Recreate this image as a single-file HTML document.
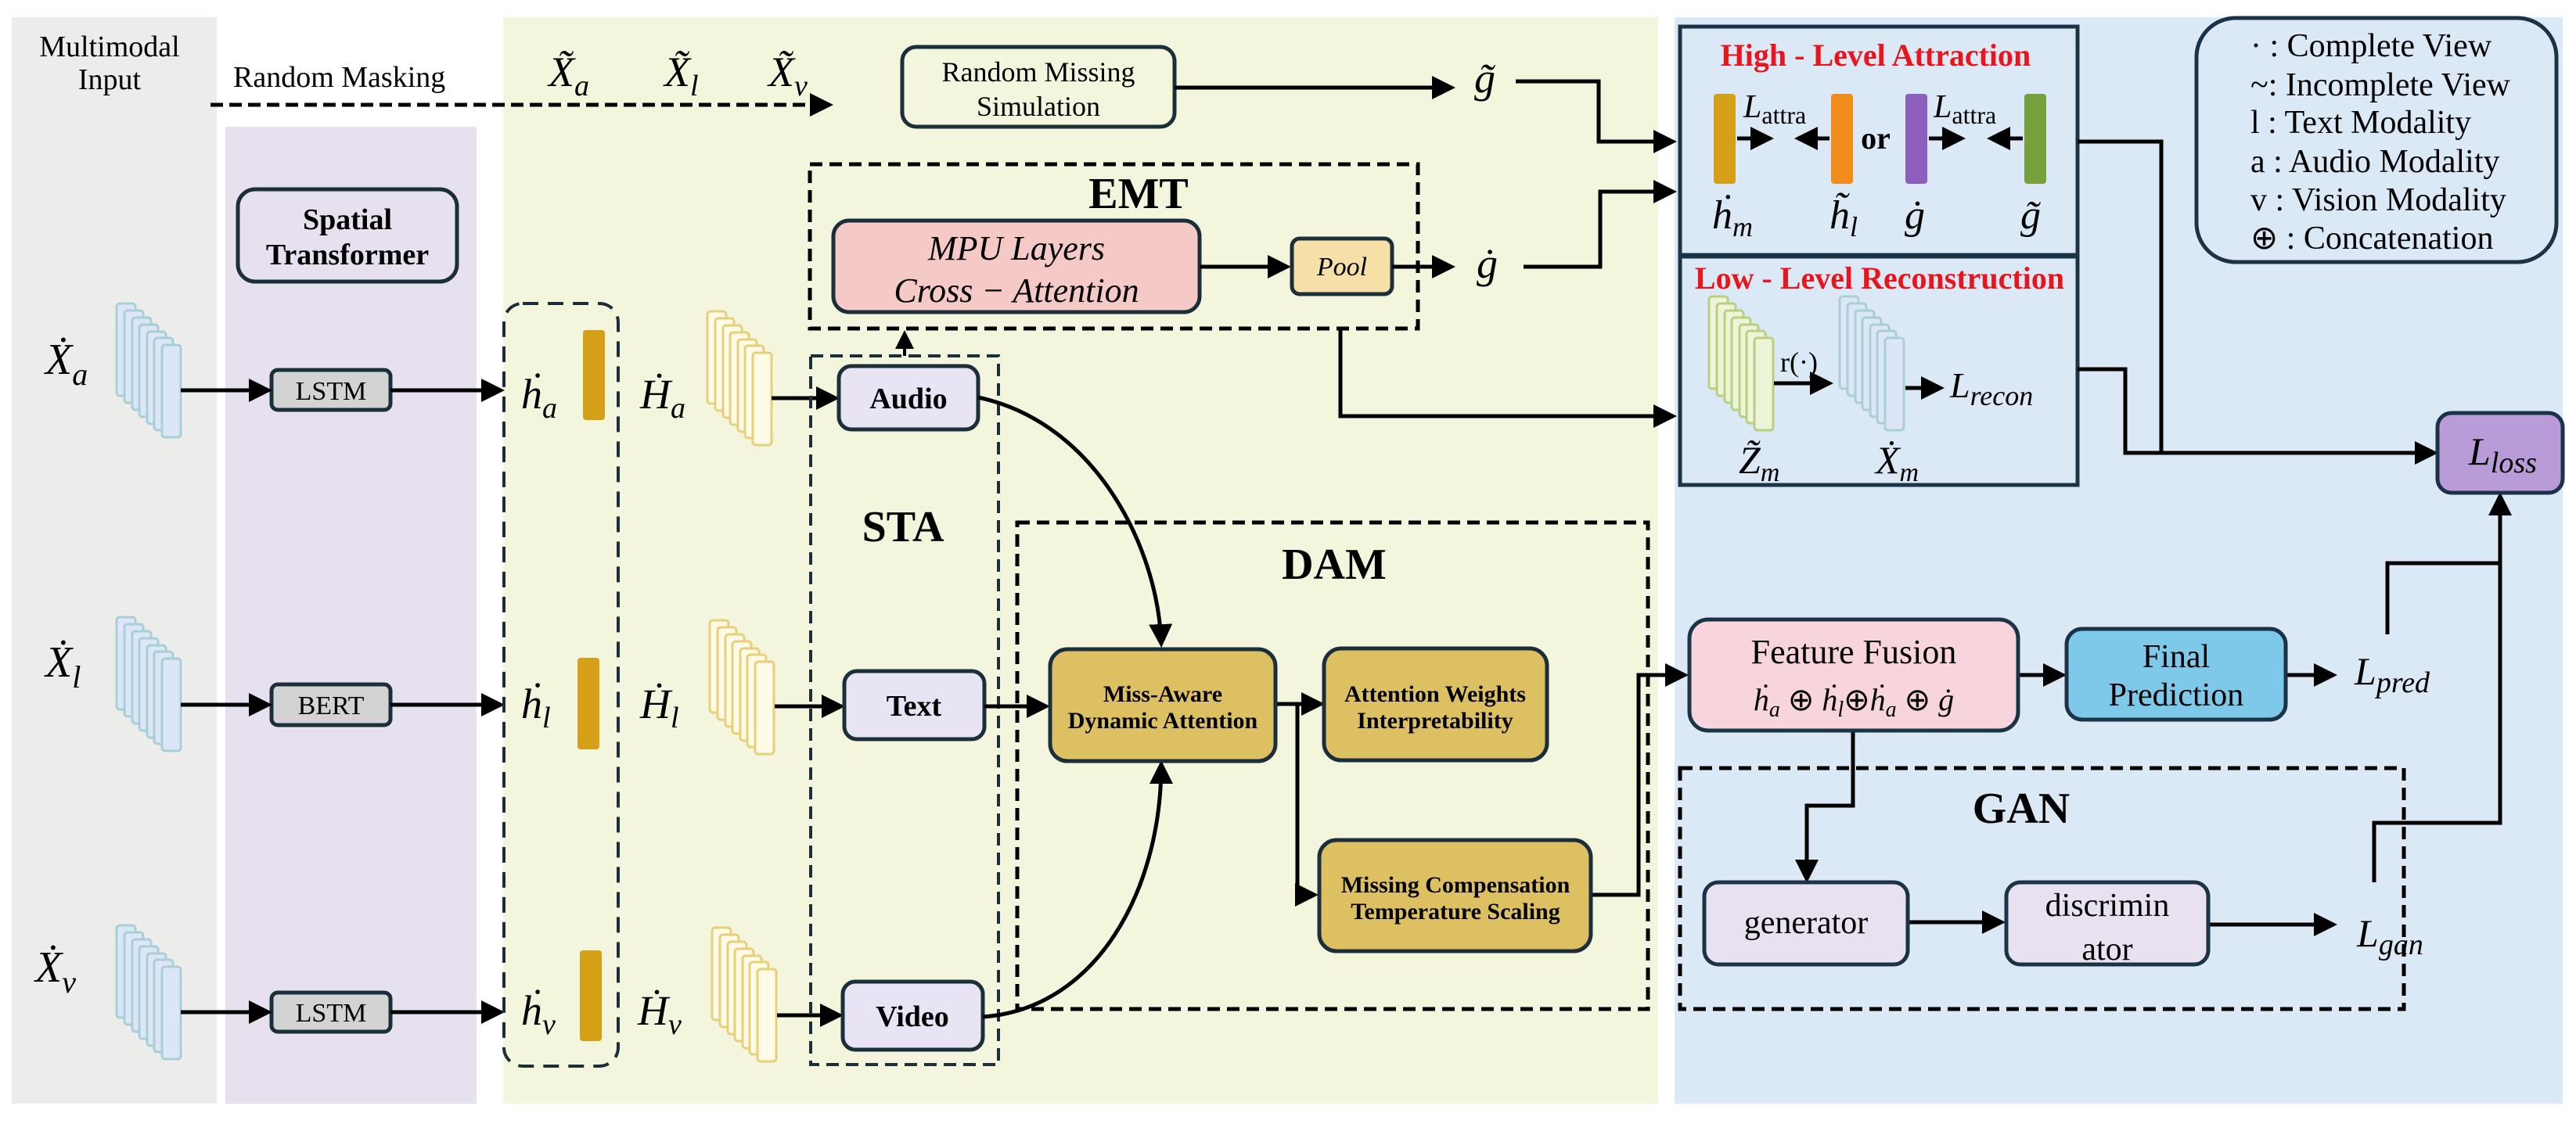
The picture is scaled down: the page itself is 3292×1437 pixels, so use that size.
<!DOCTYPE html>
<html><head><meta charset="utf-8"><style>
html,body{margin:0;padding:0;background:#fff}
svg{display:block}
text{font-family:"Liberation Serif",serif}
.b{font-weight:bold}
.m{font-style:italic}
</style></head><body>
<svg width="3292" height="1437" viewBox="0 0 3292 1437" xmlns="http://www.w3.org/2000/svg" font-family="Liberation Serif, serif">
<defs>
<marker id="a" markerWidth="6" markerHeight="6" refX="5" refY="3" orient="auto" markerUnits="strokeWidth"><path d="M0,0 L6,3 L0,6 z" fill="#000"/></marker>
<g id="stk">
<rect x="0" y="0" width="24" height="118" rx="4"/>
<rect x="10" y="9" width="24" height="118" rx="4"/>
<rect x="20" y="18" width="24" height="118" rx="4"/>
<rect x="29" y="27" width="24" height="118" rx="4"/>
<rect x="39" y="36" width="24" height="118" rx="4"/>
<rect x="48" y="44" width="24" height="118" rx="4"/>
<rect x="58" y="53" width="24" height="118" rx="4"/>
</g>
</defs>
<rect x="15" y="22" width="262" height="1389" fill="#ececea"/>
<rect x="288" y="162" width="321" height="1249" fill="#e6e0ef"/>
<rect x="643" y="22" width="1476" height="1389" fill="#f3f5dd"/>
<rect x="2140" y="22" width="1135" height="1389" fill="#dbe8f5"/>

<g font-size="38" text-anchor="middle">
<text x="140" y="72">Multimodal</text><text x="140" y="114">Input</text>
</g>
<text x="298" y="111" font-size="38">Random Masking</text>
<line x1="269" y1="134" x2="1060" y2="134" stroke="#000" stroke-width="5" stroke-dasharray="16,8" marker-end="url(#a)"/>
<g font-size="54" class="m">
<text x="701" y="110">X̃<tspan font-size="38" dy="12">a</tspan></text>
<text x="849" y="110">X̃<tspan font-size="38" dy="12">l</tspan></text>
<text x="982" y="110">X̃<tspan font-size="38" dy="12">v</tspan></text>
</g>

<rect x="304" y="242" width="280" height="118" rx="22" fill="none" stroke="#1b2f3a" stroke-width="5"/>
<text x="444" y="293" font-size="38" class="b" text-anchor="middle">Spatial</text>
<text x="444" y="338" font-size="38" class="b" text-anchor="middle">Transformer</text>

<g fill="#dde6f8" stroke="#a8d0d4" stroke-width="3">
<use href="#stk" x="149" y="388"/><use href="#stk" x="149" y="789"/><use href="#stk" x="149" y="1183"/>
</g>
<g font-size="56" class="m">
<text x="58" y="478">Ẋ<tspan font-size="40" dy="14">a</tspan></text>
<text x="58" y="865">Ẋ<tspan font-size="40" dy="14">l</tspan></text>
<text x="45" y="1255">Ẋ<tspan font-size="40" dy="14">v</tspan></text>
</g>
<g fill="#d3d3d3" stroke="#1b2f3a" stroke-width="5">
<rect x="347" y="473" width="152" height="51" rx="8"/>
<rect x="347" y="875" width="152" height="52" rx="8"/>
<rect x="347" y="1269" width="152" height="50" rx="8"/>
</g>
<g font-size="34" text-anchor="middle">
<text x="423" y="511">LSTM</text><text x="423" y="913">BERT</text><text x="423" y="1306">LSTM</text>
</g>
<g stroke="#000" stroke-width="5" fill="none" marker-end="url(#a)">
<line x1="231" y1="499" x2="343" y2="499"/><line x1="499" y1="499" x2="640" y2="499"/>
<line x1="231" y1="901" x2="343" y2="901"/><line x1="499" y1="901" x2="640" y2="901"/>
<line x1="231" y1="1294" x2="343" y2="1294"/><line x1="499" y1="1294" x2="640" y2="1294"/>
</g>
<rect x="644" y="388" width="146" height="975" rx="24" fill="none" stroke="#1b2f3a" stroke-width="4" stroke-dasharray="20,12"/>
<g fill="#d4a017">
<rect x="745" y="422" width="28" height="115" rx="4"/>
<rect x="738" y="841" width="28" height="117" rx="4"/>
<rect x="741" y="1215" width="28" height="116" rx="4"/>
</g>
<g font-size="54" class="m">
<text x="666" y="522">ḣ<tspan font-size="38" dy="12">a</tspan></text>
<text x="666" y="918">ḣ<tspan font-size="38" dy="12">l</tspan></text>
<text x="666" y="1310">ḣ<tspan font-size="38" dy="12">v</tspan></text>
<text x="818" y="522">Ḣ<tspan font-size="38" dy="12">a</tspan></text>
<text x="818" y="918">Ḣ<tspan font-size="38" dy="12">l</tspan></text>
<text x="815" y="1310">Ḣ<tspan font-size="38" dy="12">v</tspan></text>
</g>
<g fill="#fffbe6" stroke="#e8cf7a" stroke-width="3">
<use href="#stk" x="904" y="398"/><use href="#stk" x="907" y="793"/><use href="#stk" x="910" y="1186"/>
</g>
<g stroke="#000" stroke-width="5" fill="none" marker-end="url(#a)">
<line x1="986" y1="509" x2="1068" y2="509"/>
<line x1="990" y1="903" x2="1075" y2="903"/>
<line x1="993" y1="1298" x2="1073" y2="1298"/>
</g>

<rect x="1036" y="455" width="240" height="906" fill="none" stroke="#1b2f3a" stroke-width="4" stroke-dasharray="16,9"/>
<text x="1154" y="692" font-size="56" class="b" text-anchor="middle">STA</text>
<g fill="#e8e4f4" stroke="#1b2f3a" stroke-width="5">
<rect x="1072" y="468" width="178" height="81" rx="16"/>
<rect x="1079" y="858" width="179" height="87" rx="16"/>
<rect x="1077" y="1255" width="179" height="87" rx="16"/>
</g>
<g font-size="38" class="b" text-anchor="middle">
<text x="1161" y="522">Audio</text><text x="1168" y="915">Text</text><text x="1166" y="1312">Video</text>
</g>
<line x1="1156" y1="455" x2="1156" y2="426" stroke="#000" stroke-width="4" marker-end="url(#a)"/>

<rect x="1153" y="60" width="348" height="102" rx="18" fill="none" stroke="#1b2f3a" stroke-width="5"/>
<text x="1327" y="104" font-size="36" text-anchor="middle">Random Missing</text>
<text x="1327" y="148" font-size="36" text-anchor="middle">Simulation</text>
<line x1="1501" y1="112" x2="1855" y2="112" stroke="#000" stroke-width="5" marker-end="url(#a)"/>
<text x="1884" y="118" font-size="54" class="m">g̃</text>

<rect x="1035" y="210" width="777" height="210" fill="none" stroke="#000" stroke-width="5" stroke-dasharray="16,9"/>
<text x="1455" y="266" font-size="56" class="b" text-anchor="middle">EMT</text>
<rect x="1065" y="282" width="468" height="117" rx="20" fill="#f5c9c6" stroke="#1b2f3a" stroke-width="5"/>
<text x="1299" y="332" font-size="44" class="m" text-anchor="middle">MPU Layers</text>
<text x="1299" y="386" font-size="44" class="m" text-anchor="middle">Cross − Attention</text>
<line x1="1533" y1="341" x2="1645" y2="341" stroke="#000" stroke-width="5" marker-end="url(#a)"/>
<rect x="1651" y="305" width="128" height="71" rx="10" fill="#f7e0a8" stroke="#1b2f3a" stroke-width="5"/>
<text x="1715" y="352" font-size="34" class="m" text-anchor="middle">Pool</text>
<line x1="1779" y1="341" x2="1855" y2="341" stroke="#000" stroke-width="5" marker-end="url(#a)"/>
<text x="1887" y="355" font-size="54" class="m">ġ</text>

<g stroke="#000" stroke-width="5" fill="none">
<polyline points="1937,104 2043,104 2043,181 2138,181" marker-end="url(#a)"/>
<polyline points="1947,341 2045,341 2045,245 2138,245" marker-end="url(#a)"/>
<polyline points="1713,420 1713,532 2138,532" marker-end="url(#a)"/>
<path d="M1250,508 C1400,540 1480,700 1484,823" marker-end="url(#a)"/>
<path d="M1256,1300 C1400,1290 1484,1140 1484,977" marker-end="url(#a)"/>
<line x1="1258" y1="903" x2="1337" y2="903" marker-end="url(#a)"/>
<line x1="1630" y1="900" x2="1688" y2="900" marker-end="url(#a)"/>
<polyline points="1658,900 1658,1144 1680,1144" marker-end="url(#a)"/>
<polyline points="2033,1144 2094,1144 2094,863 2153,863" marker-end="url(#a)"/>
</g>

<rect x="1300" y="668" width="806" height="622" fill="none" stroke="#000" stroke-width="5" stroke-dasharray="16,9"/>
<text x="1705" y="740" font-size="56" class="b" text-anchor="middle">DAM</text>
<g fill="#dcc062" stroke="#1b2f3a" stroke-width="5">
<rect x="1342" y="830" width="288" height="143" rx="22"/>
<rect x="1692" y="829" width="285" height="143" rx="22"/>
<rect x="1686" y="1074" width="347" height="142" rx="22"/>
</g>
<g font-size="30" class="b" text-anchor="middle">
<text x="1486" y="897">Miss-Aware</text><text x="1486" y="931">Dynamic Attention</text>
<text x="1834" y="897">Attention Weights</text><text x="1834" y="931">Interpretability</text>
<text x="1860" y="1141">Missing Compensation</text><text x="1860" y="1175">Temperature Scaling</text>
</g>

<rect x="2147" y="34" width="508" height="292" fill="none" stroke="#1b3346" stroke-width="5"/>
<rect x="2147" y="328" width="508" height="292" fill="none" stroke="#1b3346" stroke-width="5"/>
<text x="2397" y="84" font-size="40" class="b" fill="#e8161c" text-anchor="middle">High - Level Attraction</text>
<text x="2402" y="369" font-size="40" class="b" fill="#e8161c" text-anchor="middle">Low - Level Reconstruction</text>
<rect x="2190" y="120" width="28" height="115" rx="4" fill="#d4a017"/>
<rect x="2340" y="120" width="28" height="115" rx="4" fill="#f28c1c"/>
<rect x="2435" y="120" width="28" height="115" rx="4" fill="#8c5fbd"/>
<rect x="2587" y="120" width="28" height="115" rx="4" fill="#76a03c"/>
<g stroke="#000" stroke-width="5" marker-end="url(#a)">
<line x1="2220" y1="177" x2="2262" y2="177"/><line x1="2338" y1="177" x2="2298" y2="177"/>
<line x1="2465" y1="177" x2="2507" y2="177"/><line x1="2585" y1="177" x2="2544" y2="177"/>
</g>
<text x="2397" y="190" font-size="40" class="b" text-anchor="middle">or</text>
<g font-size="42" class="m">
<text x="2228" y="150">L<tspan font-size="32" font-style="normal" dy="8">attra</tspan></text>
<text x="2471" y="150">L<tspan font-size="32" font-style="normal" dy="8">attra</tspan></text>
</g>
<g font-size="52" class="m">
<text x="2188" y="292">ḣ<tspan font-size="36" dy="10">m</tspan></text>
<text x="2338" y="292">h̃<tspan font-size="36" dy="10">l</tspan></text>
<text x="2434" y="292">ġ</text>
<text x="2582" y="292">g̃</text>
</g>
<g fill="#eef4d8" stroke="#b8d080" stroke-width="3"><use href="#stk" x="2184" y="379"/></g>
<g fill="#dde6f8" stroke="#a8d0d4" stroke-width="3"><use href="#stk" x="2351" y="379"/></g>
<g stroke="#000" stroke-width="5" marker-end="url(#a)">
<line x1="2267" y1="490" x2="2338" y2="490"/><line x1="2435" y1="496" x2="2480" y2="496"/>
</g>
<text x="2275" y="475" font-size="36">r(·)</text>
<text x="2492" y="508" font-size="46" class="m">L<tspan font-size="36" dy="10">recon</tspan></text>
<g font-size="50" class="m">
<text x="2222" y="605">Z̃<tspan font-size="34" dy="10">m</tspan></text>
<text x="2397" y="605">Ẋ<tspan font-size="34" dy="10">m</tspan></text>
</g>
<g stroke="#000" stroke-width="5" fill="none">
<polyline points="2655,181 2762,181 2762,579"/>
<polyline points="2655,472 2716,472 2716,579 3111,579" marker-end="url(#a)"/>
<polyline points="3051,811 3051,720 3195,720 3195,634" marker-end="url(#a)"/>
<polyline points="3195,720 3195,1052 3034,1052 3034,1128"/>
<polyline points="2368,934 2368,1030 2309,1030 2309,1124" marker-end="url(#a)"/>
<line x1="2579" y1="863" x2="2636" y2="863" marker-end="url(#a)"/>
<line x1="2921" y1="863" x2="2982" y2="863" marker-end="url(#a)"/>
<line x1="2438" y1="1179" x2="2558" y2="1179" marker-end="url(#a)"/>
<line x1="2822" y1="1182" x2="2982" y2="1182" marker-end="url(#a)"/>
</g>
<rect x="2807" y="23" width="460" height="312" rx="50" fill="none" stroke="#1b3346" stroke-width="5"/>
<g font-size="42">
<text x="2876" y="72">·  : Complete View</text>
<text x="2876" y="122">~:  Incomplete View</text>
<text x="2876" y="170">l : Text Modality</text>
<text x="2876" y="220">a : Audio Modality</text>
<text x="2876" y="269">v : Vision Modality</text>
<text x="2876" y="318">⊕ : Concatenation</text>
</g>
<rect x="3115" y="528" width="160" height="102" rx="18" fill="#b99bd8" stroke="#1b3346" stroke-width="5"/>
<text x="3155" y="594" font-size="50" class="m">L<tspan font-size="38" dy="10">loss</tspan></text>

<rect x="2159" y="792" width="420" height="142" rx="24" fill="#f8d5dc" stroke="#1b3346" stroke-width="5"/>
<text x="2369" y="848" font-size="44" text-anchor="middle">Feature Fusion</text>
<text x="2369" y="908" font-size="40" class="m" text-anchor="middle">ḣ<tspan font-size="28" dy="8">a</tspan><tspan dy="-8" font-style="normal"> ⊕ </tspan>ḣ<tspan font-size="28" dy="8">l</tspan><tspan dy="-8" font-style="normal">⊕</tspan>ḣ<tspan font-size="28" dy="8">a</tspan><tspan dy="-8" font-style="normal"> ⊕ </tspan>ġ</text>
<rect x="2641" y="804" width="280" height="116" rx="20" fill="#7ec8ea" stroke="#1b3346" stroke-width="5"/>
<text x="2781" y="853" font-size="42" text-anchor="middle">Final</text>
<text x="2781" y="902" font-size="42" text-anchor="middle">Prediction</text>
<text x="3009" y="875" font-size="50" class="m">L<tspan font-size="38" dy="10">pred</tspan></text>
<rect x="2147" y="982" width="925" height="308" fill="none" stroke="#000" stroke-width="5" stroke-dasharray="16,9"/>
<text x="2583" y="1052" font-size="56" class="b" text-anchor="middle">GAN</text>
<rect x="2178" y="1128" width="260" height="105" rx="18" fill="#e8e2f0" stroke="#1b3346" stroke-width="5"/>
<rect x="2564" y="1128" width="258" height="105" rx="18" fill="#e8e2f0" stroke="#1b3346" stroke-width="5"/>
<text x="2308" y="1193" font-size="42" text-anchor="middle">generator</text>
<text x="2693" y="1171" font-size="42" text-anchor="middle">discrimin</text>
<text x="2693" y="1227" font-size="42" text-anchor="middle">ator</text>
<text x="3012" y="1210" font-size="50" class="m">L<tspan font-size="38" dy="10">gan</tspan></text>
</svg>
</body></html>
